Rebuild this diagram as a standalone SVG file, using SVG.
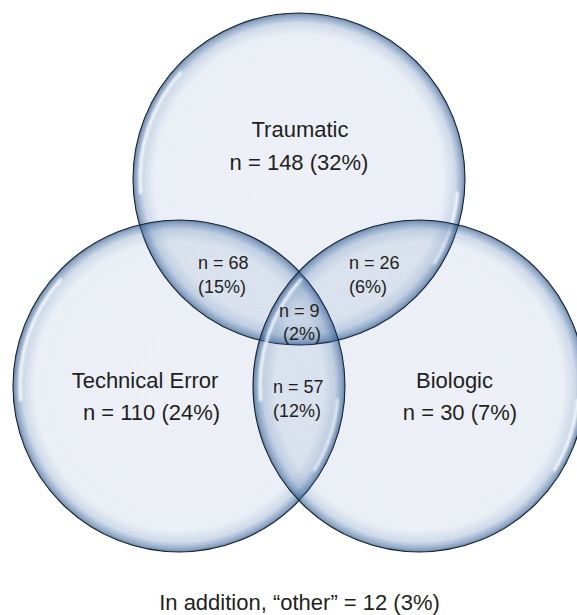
<svg xmlns="http://www.w3.org/2000/svg" width="577" height="615" viewBox="0 0 577 615">
  <defs>
    <radialGradient id="bubble" cx="50%" cy="50%" r="50%">
      <stop offset="0" stop-color="#2b5a9b" stop-opacity="0.085"/>
      <stop offset="0.87" stop-color="#2b5a9b" stop-opacity="0.095"/>
      <stop offset="0.94" stop-color="#3f6fa8" stop-opacity="0.25"/>
      <stop offset="0.985" stop-color="#2f5d94" stop-opacity="0.55"/>
      <stop offset="1" stop-color="#234b7d" stop-opacity="0.7"/>
    </radialGradient>
    <filter id="soft" x="-20%" y="-20%" width="140%" height="140%">
      <feGaussianBlur stdDeviation="1"/>
    </filter>
  </defs>
  <style>
    .bubble { fill: url(#bubble); stroke: #16222e; stroke-width: 1.1; }
    .hl { fill: none; stroke: #ffffff; stroke-width: 3; stroke-opacity: 0.9; stroke-linecap: round; filter: url(#soft); }
    .big { font-family: "Liberation Sans", Arial, Helvetica, sans-serif; font-size: 22px; fill: #231f20; }
    .small { font-family: "Liberation Sans", Arial, Helvetica, sans-serif; font-size: 18px; fill: #231f20; }
    .mid { text-anchor: middle; }
  </style>
  <rect width="577" height="615" fill="#ffffff"/>

  <g id="traumatic">
    <circle class="bubble" cx="299" cy="179" r="166"/>
    <path class="hl" d="M 140.6 192.9 A 159 159 0 0 1 180.8 72.6"/>
    <path class="hl" d="M 457.4 192.9 A 159 159 0 0 1 434.3 263.0"/>
  </g>
  <g id="technical-error">
    <circle class="bubble" cx="179" cy="386" r="166"/>
    <path class="hl" d="M 20.6 399.9 A 159 159 0 0 1 60.8 279.6"/>
    <path class="hl" d="M 337.4 399.9 A 159 159 0 0 1 314.3 470.0"/>
  </g>
  <g id="biologic">
    <circle class="bubble" cx="419" cy="386" r="166"/>
    <path class="hl" d="M 260.6 399.9 A 159 159 0 0 1 300.8 279.6"/>
    <path class="hl" d="M 577.4 399.9 A 159 159 0 0 1 554.3 470.0"/>
  </g>

  <g id="traumatic-label">
    <text class="big mid" x="300" y="137">Traumatic</text>
    <text class="big mid" x="299" y="170">n = 148 (32%)</text>
  </g>
  <g id="technical-error-label">
    <text class="big mid" x="145" y="388">Technical Error</text>
    <text class="big mid" x="151.5" y="420">n = 110 (24%)</text>
  </g>
  <g id="biologic-label">
    <text class="big mid" x="454.5" y="388">Biologic</text>
    <text class="big mid" x="460" y="420">n = 30 (7%)</text>
  </g>
  <g id="traumatic-technical">
    <text class="small" x="198" y="269">n = 68</text>
    <text class="small" x="198" y="293">(15%)</text>
  </g>
  <g id="traumatic-biologic">
    <text class="small" x="349" y="269">n = 26</text>
    <text class="small" x="349" y="293">(6%)</text>
  </g>
  <g id="all-three">
    <text class="small" x="279" y="317">n = 9</text>
    <text class="small" x="283" y="340">(2%)</text>
  </g>
  <g id="technical-biologic">
    <text class="small" x="273" y="393">n = 57</text>
    <text class="small" x="273" y="417">(12%)</text>
  </g>
  <g id="connectors"/>
  <g id="footnote">
    <text class="big mid" x="299.5" y="610">In addition, “other” = 12 (3%)</text>
  </g>
</svg>
